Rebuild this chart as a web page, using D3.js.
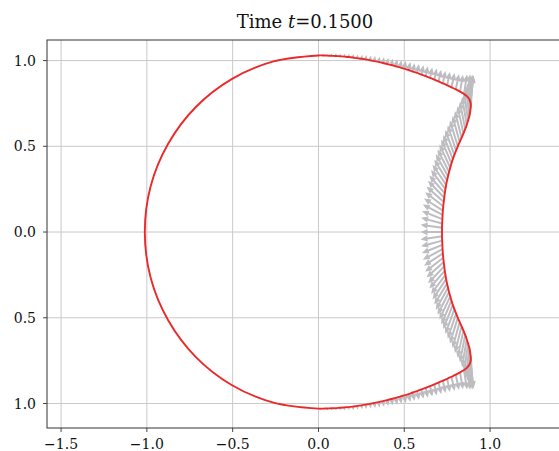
<!DOCTYPE html>
<html>
<head>
<meta charset="utf-8">
<script src="https://cdn.jsdelivr.net/npm/d3@7"></script>
<style>
  body { margin: 0; background: #fff; }
  svg { display: block; font-family: "DejaVu Serif", serif; }
</style>
</head>
<body>
<div id="chart"></div>
<script>
// tick values + labels (the y labels really show no minus sign in the source)
const xTicks = [-1.5, -1.0, -0.5, 0.0, 0.5, 1.0];
const xTickLabels = ["\u22121.5", "\u22121.0", "\u22120.5", "0.0", "0.5", "1.0"];
const yTicks = [1.0, 0.5, 0.0, -0.5, -1.0];
const yTickLabels = ["1.0", "0.5", "0.0", "0.5", "1.0"];
const titleTime = "0.1500";

// interface points on the right side with velocity: [x, y, u, v]
// from the top of the drop, round the upper corner, down the dimple to y = 0
const upperRight = [
  [0.000, 1.030, 0.002, 0.010], [0.025, 1.030, 0.002, 0.011], [0.050, 1.029, 0.002, 0.012],
  [0.075, 1.028, 0.003, 0.013], [0.100, 1.027, 0.003, 0.015], [0.125, 1.025, 0.003, 0.016],
  [0.150, 1.023, 0.004, 0.018], [0.175, 1.021, 0.004, 0.019], [0.200, 1.018, 0.004, 0.021],
  [0.225, 1.014, 0.005, 0.022], [0.250, 1.011, 0.005, 0.023], [0.275, 1.007, 0.005, 0.025],
  [0.300, 1.002, 0.006, 0.027], [0.325, 0.997, 0.006, 0.029], [0.350, 0.992, 0.007, 0.031],
  [0.375, 0.986, 0.007, 0.033], [0.400, 0.980, 0.007, 0.035], [0.425, 0.974, 0.008, 0.037],
  [0.450, 0.967, 0.009, 0.040], [0.475, 0.960, 0.009, 0.042], [0.500, 0.953, 0.009, 0.044],
  [0.525, 0.945, 0.010, 0.047], [0.550, 0.936, 0.010, 0.049], [0.575, 0.928, 0.011, 0.052],
  [0.600, 0.918, 0.012, 0.055], [0.625, 0.909, 0.012, 0.058], [0.650, 0.899, 0.013, 0.061],
  [0.675, 0.889, 0.014, 0.065], [0.700, 0.878, 0.015, 0.068], [0.725, 0.867, 0.015, 0.072],
  [0.750, 0.856, 0.016, 0.077], [0.775, 0.844, 0.018, 0.083], [0.800, 0.832, 0.019, 0.090],
  [0.825, 0.819, 0.017, 0.098], [0.848, 0.805, 0.018, 0.114], [0.866, 0.791, 0.018, 0.129],
  [0.879, 0.774, 0.018, 0.144], [0.886, 0.755, 0.017, 0.159], [0.888, 0.737, 0.012, 0.172],
  [0.886, 0.718, 0.000, 0.170], [0.884, 0.700, -0.015, 0.167], [0.879, 0.675, -0.019, 0.166],
  [0.872, 0.650, -0.023, 0.164], [0.864, 0.625, -0.027, 0.163], [0.855, 0.600, -0.031, 0.160],
  [0.845, 0.575, -0.035, 0.158], [0.834, 0.550, -0.039, 0.155], [0.823, 0.525, -0.042, 0.152],
  [0.812, 0.500, -0.046, 0.150], [0.802, 0.475, -0.049, 0.147], [0.792, 0.450, -0.053, 0.145],
  [0.783, 0.425, -0.056, 0.141], [0.775, 0.400, -0.059, 0.139], [0.768, 0.375, -0.063, 0.135],
  [0.761, 0.350, -0.067, 0.132], [0.755, 0.325, -0.071, 0.128], [0.749, 0.300, -0.074, 0.123],
  [0.744, 0.275, -0.079, 0.118], [0.740, 0.250, -0.084, 0.112], [0.736, 0.225, -0.090, 0.105],
  [0.733, 0.200, -0.095, 0.099], [0.730, 0.175, -0.100, 0.090], [0.727, 0.150, -0.105, 0.082],
  [0.725, 0.125, -0.110, 0.071], [0.723, 0.100, -0.115, 0.061], [0.722, 0.075, -0.119, 0.048],
  [0.721, 0.050, -0.123, 0.033], [0.720, 0.025, -0.125, 0.018], [0.720, 0.000, -0.125, 0.000]
];

// below y = 0, down the dimple, round the lower corner, back to the bottom
const lowerRight = [
  [0.720, -0.025, -0.125, -0.018], [0.721, -0.050, -0.123, -0.033], [0.722, -0.075, -0.119, -0.048],
  [0.723, -0.100, -0.115, -0.061], [0.725, -0.125, -0.110, -0.071], [0.727, -0.150, -0.105, -0.082],
  [0.730, -0.175, -0.100, -0.090], [0.733, -0.200, -0.095, -0.099], [0.736, -0.225, -0.090, -0.105],
  [0.740, -0.250, -0.084, -0.112], [0.744, -0.275, -0.079, -0.118], [0.749, -0.300, -0.074, -0.123],
  [0.755, -0.325, -0.071, -0.128], [0.761, -0.350, -0.067, -0.132], [0.768, -0.375, -0.063, -0.135],
  [0.775, -0.400, -0.059, -0.139], [0.783, -0.425, -0.056, -0.141], [0.792, -0.450, -0.053, -0.145],
  [0.802, -0.475, -0.049, -0.147], [0.812, -0.500, -0.046, -0.150], [0.823, -0.525, -0.042, -0.152],
  [0.834, -0.550, -0.039, -0.155], [0.845, -0.575, -0.035, -0.158], [0.855, -0.600, -0.031, -0.160],
  [0.864, -0.625, -0.027, -0.163], [0.872, -0.650, -0.023, -0.164], [0.879, -0.675, -0.019, -0.166],
  [0.884, -0.700, -0.015, -0.167], [0.886, -0.718, 0.000, -0.170], [0.888, -0.737, 0.012, -0.172],
  [0.886, -0.755, 0.017, -0.159], [0.879, -0.774, 0.018, -0.144], [0.866, -0.791, 0.018, -0.129],
  [0.848, -0.805, 0.018, -0.114], [0.825, -0.819, 0.017, -0.098], [0.800, -0.832, 0.019, -0.090],
  [0.775, -0.844, 0.018, -0.083], [0.750, -0.856, 0.016, -0.077], [0.725, -0.867, 0.015, -0.072],
  [0.700, -0.878, 0.015, -0.068], [0.675, -0.889, 0.014, -0.065], [0.650, -0.899, 0.013, -0.061],
  [0.625, -0.909, 0.012, -0.058], [0.600, -0.918, 0.012, -0.055], [0.575, -0.928, 0.011, -0.052],
  [0.550, -0.936, 0.010, -0.049], [0.525, -0.945, 0.010, -0.047], [0.500, -0.953, 0.009, -0.044],
  [0.475, -0.960, 0.009, -0.042], [0.450, -0.967, 0.009, -0.040], [0.425, -0.974, 0.008, -0.037],
  [0.400, -0.980, 0.007, -0.035], [0.375, -0.986, 0.007, -0.033], [0.350, -0.992, 0.007, -0.031],
  [0.325, -0.997, 0.006, -0.029], [0.300, -1.002, 0.006, -0.027], [0.275, -1.007, 0.005, -0.025],
  [0.250, -1.011, 0.005, -0.023], [0.225, -1.014, 0.005, -0.022], [0.200, -1.018, 0.004, -0.021],
  [0.175, -1.021, 0.004, -0.019], [0.150, -1.023, 0.004, -0.018], [0.125, -1.025, 0.003, -0.016],
  [0.100, -1.027, 0.003, -0.015], [0.075, -1.028, 0.003, -0.013], [0.050, -1.029, 0.002, -0.012],
  [0.025, -1.030, 0.002, -0.011]
];

// left (round) side of the drop, no visible velocity, bottom -> top
const leftSide = [
  [0.000, -1.030], [-0.262, -0.995], [-0.506, -0.892], [-0.716, -0.728], [-0.876, -0.515],
  [-0.978, -0.267], [-1.012, 0.000], [-0.978, 0.267], [-0.876, 0.515], [-0.716, 0.728],
  [-0.506, 0.892], [-0.262, 0.995]
];

const W = 559, H = 451;

const svg = d3.select("#chart").append("svg")
  .attr("width", W)
  .attr("height", H);

// axes box runs a bit past the right edge of the picture
const x = d3.scaleLinear().domain([-1.582, 1.425]).range([47, 563]);
const y = d3.scaleLinear().domain([-1.143, 1.12]).range([428, 40]);

// grid
svg.append("g")
  .selectAll("line.vx")
  .data(xTicks)
  .enter().append("line")
  .attr("x1", d => x(d)).attr("x2", d => x(d))
  .attr("y1", y.range()[1]).attr("y2", y.range()[0])
  .attr("stroke", "#c9c9cc").attr("stroke-width", 1);

svg.append("g")
  .selectAll("line.hy")
  .data(yTicks)
  .enter().append("line")
  .attr("x1", x.range()[0]).attr("x2", x.range()[1])
  .attr("y1", d => y(d)).attr("y2", d => y(d))
  .attr("stroke", "#c9c9cc").attr("stroke-width", 1);

// quiver arrows (tail sits on the interface)
const arrows = upperRight.concat(lowerRight);
const shaftHalf = 1.0, headLen = 7, headHalf = 3.1;

function arrowPath(d) {
  const bx = x(d[0]), by = y(d[1]);
  const tx = x(d[0] + d[2]), ty = y(d[1] + d[3]);
  const len = Math.hypot(tx - bx, ty - by);
  if (len < 0.3) return "";
  const dx = (tx - bx) / len, dy = (ty - by) / len;
  const nx = -dy, ny = dx;
  let hl = headLen, hh = headHalf, sh = shaftHalf;
  if (len < headLen * 1.2) {
    const k = len / (headLen * 1.2);
    hl = headLen * k; hh = headHalf * k; sh = shaftHalf * Math.max(k, 0.45);
  }
  const mx = tx - dx * hl, my = ty - dy * hl;
  const p = [
    [bx + nx * sh, by + ny * sh],
    [mx + nx * sh, my + ny * sh],
    [mx + nx * hh, my + ny * hh],
    [tx, ty],
    [mx - nx * hh, my - ny * hh],
    [mx - nx * sh, my - ny * sh],
    [bx - nx * sh, by - ny * sh]
  ];
  return "M" + p.map(q => q[0].toFixed(2) + "," + q[1].toFixed(2)).join("L") + "Z";
}

svg.append("g")
  .selectAll("path")
  .data(arrows)
  .enter().append("path")
  .attr("d", arrowPath)
  .attr("fill", "#bdbdc1")
  .attr("stroke", "none");

// interface curve
const ring = upperRight.map(d => [d[0], d[1]])
  .concat(lowerRight.map(d => [d[0], d[1]]))
  .concat(leftSide);

const line = d3.line()
  .x(d => x(d[0]))
  .y(d => y(d[1]))
  .curve(d3.curveCatmullRomClosed.alpha(0.5));

svg.append("path")
  .datum(ring)
  .attr("d", line)
  .attr("fill", "none")
  .attr("stroke", "#ea2a2a")
  .attr("stroke-width", 1.9);

// spines
svg.append("rect")
  .attr("x", x.range()[0]).attr("y", y.range()[1])
  .attr("width", x.range()[1] - x.range()[0])
  .attr("height", y.range()[0] - y.range()[1])
  .attr("fill", "none")
  .attr("stroke", "#333")
  .attr("stroke-width", 1);

// x ticks
const xAxis = svg.append("g");
xAxis.selectAll("line")
  .data(xTicks)
  .enter().append("line")
  .attr("x1", d => x(d)).attr("x2", d => x(d))
  .attr("y1", y.range()[0]).attr("y2", y.range()[0] + 4)
  .attr("stroke", "#333").attr("stroke-width", 0.9);
xAxis.selectAll("text")
  .data(xTicks)
  .enter().append("text")
  .attr("x", d => x(d))
  .attr("y", 449)
  .attr("text-anchor", "middle")
  .style("font-size", "14px")
  .style("fill", "#111")
  .text((d, i) => xTickLabels[i]);

// y ticks
const yAxis = svg.append("g");
yAxis.selectAll("line")
  .data(yTicks)
  .enter().append("line")
  .attr("x1", x.range()[0] - 4).attr("x2", x.range()[0])
  .attr("y1", d => y(d)).attr("y2", d => y(d))
  .attr("stroke", "#333").attr("stroke-width", 0.9);
yAxis.selectAll("text")
  .data(yTicks)
  .enter().append("text")
  .attr("x", x.range()[0] - 11)
  .attr("y", d => y(d))
  .attr("dy", "0.36em")
  .attr("text-anchor", "end")
  .style("font-size", "14px")
  .style("fill", "#111")
  .text((d, i) => yTickLabels[i]);

// title
const title = svg.append("text")
  .attr("x", (x.range()[0] + x.range()[1]) / 2)
  .attr("y", 28)
  .attr("text-anchor", "middle")
  .style("font-size", "18px")
  .style("fill", "#111");
title.append("tspan").text("Time ");
title.append("tspan").style("font-style", "italic").text("t");
title.append("tspan").text("=" + titleTime);
</script>
</body>
</html>
